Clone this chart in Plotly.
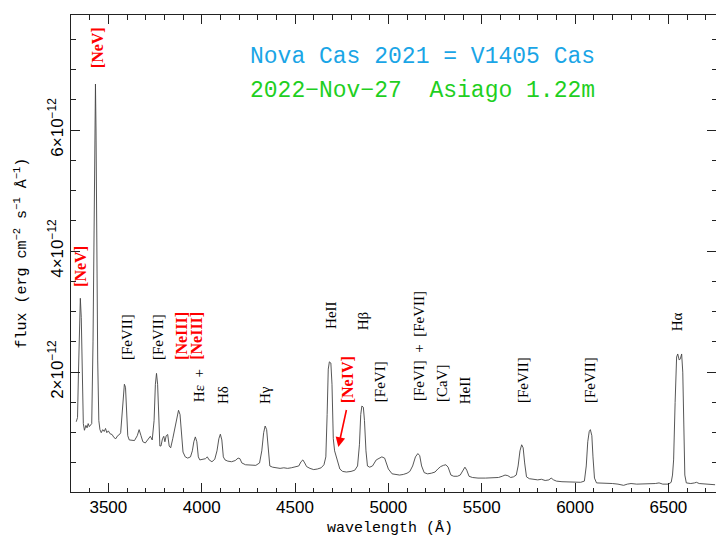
import plotly.graph_objects as go

# ---- spectrum (wavelength in Angstrom, flux in units of 1e-12 erg cm^-2 s^-1 A^-1) ----
wavelength = [
    3328, 3335, 3340, 3346, 3350, 3355, 3360, 3366, 3372, 3380, 3386, 3392, 3398, 3404,
    3411, 3418, 3424, 3429, 3431, 3434, 3438, 3443, 3449, 3455,
    3462, 3470, 3478, 3485, 3492, 3500, 3510, 3520, 3530, 3540, 3550, 3560, 3566,
    3572, 3580, 3586, 3592, 3598, 3604, 3612, 3625, 3640, 3655, 3665, 3675, 3685,
    3698, 3712, 3725, 3735, 3745, 3752, 3758, 3764, 3770, 3776, 3782, 3790, 3797,
    3803, 3810, 3818, 3826, 3834, 3845, 3858, 3868, 3876, 3884, 3892, 3900, 3912,
    3925, 3940, 3950, 3958, 3966, 3974, 3982, 3990, 4000, 4020, 4030, 4040, 4055,
    4070, 4082, 4092, 4100, 4108, 4116, 4125, 4140, 4160, 4180, 4195, 4205, 4215,
    4235, 4260, 4290, 4310, 4322, 4332, 4340, 4348, 4356, 4365, 4380, 4400, 4420,
    4440, 4460, 4480, 4500, 4520, 4532, 4542, 4552, 4562, 4580, 4600, 4620, 4640,
    4655, 4665, 4672, 4678, 4684, 4692, 4698, 4705, 4712, 4722, 4730, 4740, 4755,
    4775, 4800, 4820, 4835, 4845, 4852, 4858, 4866, 4872, 4880, 4888, 4900, 4915,
    4935, 4950, 4965, 4980, 4990, 5000, 5020, 5040, 5060, 5080, 5100, 5115, 5130,
    5145, 5158, 5168, 5178, 5192, 5210, 5230, 5250, 5265, 5280, 5295, 5308, 5320,
    5335, 5350, 5370, 5385, 5398, 5410, 5420, 5432, 5450, 5480, 5520, 5560, 5590,
    5610, 5625, 5640, 5655, 5670, 5685, 5695, 5705, 5714, 5722, 5730, 5740, 5755,
    5775, 5800, 5820, 5840, 5860, 5872, 5885, 5900, 5930, 5960, 6000, 6030, 6050,
    6060, 6068, 6076, 6082, 6090, 6096, 6104, 6115, 6140, 6170, 6200, 6230, 6260,
    6280, 6300, 6330, 6360, 6400, 6430, 6450, 6470, 6500, 6515, 6522, 6528, 6536,
    6544, 6550, 6558, 6564, 6571, 6577, 6582, 6588, 6596, 6620, 6640, 6650, 6665,
    6700, 6730, 6750,
]
flux_e12 = [
    1.18, 1.25, 2.00, 3.00, 3.22, 2.90, 1.80, 1.15, 1.04, 1.12, 1.08, 1.15, 1.10, 1.12,
    1.15, 2.50, 4.50, 6.20, 6.76, 6.00, 4.00, 2.20, 1.20, 1.05,
    1.00, 1.05, 1.02, 1.07, 1.00, 1.03, 0.98, 0.97, 0.92, 0.90, 0.95, 0.97, 1.00,
    1.20, 1.60, 1.80, 1.75, 1.30, 0.95, 0.88, 0.88, 0.87, 0.95, 1.05, 0.95, 0.85,
    0.83, 0.88, 0.94, 0.88, 1.20, 1.80, 1.98, 1.80, 1.20, 0.78, 0.78, 0.90, 0.94,
    0.85, 0.95, 0.97, 0.78, 0.75, 0.90, 1.10, 1.30, 1.37, 1.30, 0.95, 0.68, 0.60,
    0.58, 0.60, 0.70, 0.85, 0.93, 0.85, 0.60, 0.55, 0.56, 0.57, 0.60, 0.55, 0.52,
    0.56, 0.70, 0.90, 0.975, 0.88, 0.60, 0.55, 0.53, 0.52, 0.54, 0.58, 0.57, 0.50,
    0.47, 0.46, 0.46, 0.50, 0.70, 1.00, 1.11, 1.05, 0.70, 0.45, 0.43, 0.42, 0.41,
    0.42, 0.41, 0.42, 0.43, 0.45, 0.52, 0.55, 0.50, 0.44, 0.41, 0.39, 0.40, 0.42,
    0.47, 0.60, 1.30, 2.05, 2.17, 2.15, 1.80, 0.90, 0.70, 0.60, 0.50, 0.40, 0.36,
    0.35, 0.36, 0.38, 0.45, 0.80, 1.30, 1.44, 1.42, 1.20, 0.70, 0.45, 0.43, 0.45,
    0.55, 0.57, 0.60, 0.58, 0.50, 0.40, 0.32, 0.31, 0.30, 0.31, 0.33, 0.36, 0.45,
    0.60, 0.655, 0.62, 0.45, 0.34, 0.32, 0.33, 0.35, 0.40, 0.44, 0.46, 0.47, 0.43,
    0.30, 0.28, 0.28, 0.30, 0.38, 0.43, 0.38, 0.28, 0.26, 0.25, 0.25, 0.25, 0.26,
    0.28, 0.30, 0.29, 0.26, 0.27, 0.30, 0.45, 0.70, 0.80, 0.75, 0.50, 0.27, 0.24,
    0.23, 0.22, 0.23, 0.21, 0.22, 0.25, 0.22, 0.20, 0.19, 0.19, 0.18, 0.18, 0.20,
    0.45, 0.85, 1.02, 1.05, 0.95, 0.60, 0.25, 0.17, 0.17, 0.16, 0.16, 0.15, 0.13,
    0.15, 0.16, 0.15, 0.15, 0.15, 0.16, 0.17, 0.15, 0.15, 0.18, 0.30, 0.55, 1.50,
    2.25, 2.30, 2.20, 2.22, 2.30, 2.00, 0.90, 0.30, 0.17, 0.16, 0.17, 0.18, 0.16,
    0.15, 0.14, 0.14,
]
flux = [f * 1e-12 for f in flux_e12]

# ---- axes ----
x_range = [3300, 6755]
y_range = [0.02e-12, 7.9e-12]
x_tickvals = [3500, 4000, 4500, 5000, 5500, 6000, 6500]
x_ticktext = ["3500", "4000", "4500", "5000", "5500", "6000", "6500"]
y_tickvals = [2e-12, 4e-12, 6e-12]
y_ticktext = ["2×10<sup>−12</sup>", "4×10<sup>−12</sup>", "6×10<sup>−12</sup>"]

# ---- line identifications: (label, wavelength, flux in 1e-12, red?) ----
line_labels = ["[NeV]", "[NeV]", "[FeVII]", "[FeVII]", "[NeIII]", "[NeIII]", "Hε  +",
               "Hδ", "Hγ", "HeII", "Hβ", "[NeIV]", "[FeVI]", "[FeVI]  +  [FeVII]",
               "[CaV]", "HeII", "[FeVII]", "[FeVII]", "Hα"]
label_wl = [3442, 3354, 3600, 3766, 3895, 3975, 3986, 4114, 4339, 4693, 4864, 4778,
            4955, 5164, 5287, 5410, 5721, 6080, 6546]
label_fl = [7.36, 3.74, 2.58, 2.58, 2.60, 2.60, 1.77, 1.62, 1.62, 2.93, 2.84, 1.88,
            1.85, 2.43, 1.82, 1.70, 1.87, 1.87, 2.84]
label_red = [True, True, False, False, True, True, False, False, False, False, False,
             True, False, False, False, False, False, False, False]

title_line1 = "Nova Cas 2021 = V1405 Cas"
title_line2 = "2022−Nov−27  Asiago 1.22m"

fig = go.Figure()
fig.add_trace(go.Scatter(x=wavelength, y=flux, mode="lines",
                         line=dict(color="#444444", width=0.9),
                         hoverinfo="skip", showlegend=False))

annotations = []
for lab, wl, fl, red in zip(line_labels, label_wl, label_fl, label_red):
    if red:
        font = dict(family="Liberation Serif", size=16, color="#ff0000", weight="bold")
        txt = "<b>" + lab + "</b>"
    else:
        font = dict(family="Liberation Serif", size=15, color="#000000")
        txt = lab
    annotations.append(dict(x=wl, y=fl * 1e-12, xref="x", yref="y", text=txt,
                            showarrow=False, textangle=-90, font=font,
                            xanchor="center", yanchor="middle"))

# arrow for [NeIV]
annotations.append(dict(x=4732, y=0.765e-12, ax=4777, ay=1.40e-12, xref="x", yref="y",
                        axref="x", ayref="y", text="", showarrow=True, arrowhead=2,
                        arrowsize=1.2, arrowwidth=1.6, arrowcolor="#ff0000"))

# titles
annotations.append(dict(x=0.2744, y=0.912, xref="paper", yref="paper", text=title_line1,
                        showarrow=False, xanchor="left", yanchor="middle",
                        font=dict(family="Liberation Mono", size=23, color="#1aa5e6")))
annotations.append(dict(x=0.2744, y=0.841, xref="paper", yref="paper", text=title_line2,
                        showarrow=False, xanchor="left", yanchor="middle",
                        font=dict(family="Liberation Mono", size=23, color="#1fcf1f")))

# axis titles
annotations.append(dict(x=-0.079, y=0.5, xref="paper", yref="paper",
                        text="flux (erg cm<sup>−2</sup> s<sup>−1</sup> Å<sup>−1</sup>)",
                        showarrow=False, textangle=-90, xanchor="center", yanchor="middle",
                        font=dict(family="Liberation Mono", size=15, color="#000000")))
annotations.append(dict(x=0.4946, y=-0.077, xref="paper", yref="paper",
                        text="wavelength (Å)", showarrow=False, xanchor="center",
                        yanchor="middle",
                        font=dict(family="Liberation Mono", size=15, color="#000000")))

axis_common = dict(showgrid=False, zeroline=False, showline=True, linecolor="#222222",
                   linewidth=1, mirror="ticks", ticks="inside", tickcolor="#222222",
                   tickwidth=1)

fig.update_layout(
    width=716, height=538,
    margin=dict(l=71, r=0, t=15, b=46),
    paper_bgcolor="white", plot_bgcolor="white",
    annotations=annotations,
    xaxis=dict(range=x_range, tickvals=x_tickvals, ticktext=x_ticktext, ticklen=9,
               tickfont=dict(family="Liberation Sans", size=17, color="#000000"),
               minor=dict(dtick=100, tick0=3300, ticklen=4.5, ticks="inside",
                          tickcolor="#222222"),
               **axis_common),
    yaxis=dict(range=y_range, tickvals=y_tickvals, ticktext=y_ticktext, ticklen=9,
               tickangle=-90,
               tickfont=dict(family="Liberation Sans", size=17, color="#000000"),
               minor=dict(dtick=0.5e-12, tick0=0, ticklen=4.5, ticks="inside",
                          tickcolor="#222222"),
               **axis_common),
)

fig.write_html("out.html")
